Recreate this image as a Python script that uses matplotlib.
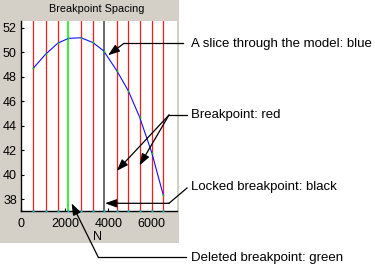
import matplotlib
matplotlib.use("Agg")
import matplotlib.pyplot as plt
from matplotlib.patches import Rectangle
from matplotlib.lines import Line2D

plt.rcParams["font.family"] = ["Liberation Sans", "DejaVu Sans"]

# Breakpoint positions along N and the model slice evaluated at each of them
breakpoints = [540, 1110, 1670, 2160, 2740, 3280, 3780, 4390, 4920, 5440, 6000, 6530]
slice_values = [48.68, 49.83, 50.73, 51.13, 51.18, 50.80, 50.12, 48.49, 46.85, 44.70, 41.80, 38.33]
deleted_breakpoint = 2160
locked_breakpoint = 3780

x_ticks = [0, 2000, 4000, 6000]
y_ticks = [38, 40, 42, 44, 46, 48, 50, 52]

title = "Breakpoint Spacing"
x_label = "N"
callouts = [
    "A slice through the model: blue",
    "Breakpoint: red",
    "Locked breakpoint: black",
    "Deleted breakpoint: green",
]

W, H = 375, 268
fig = plt.figure(figsize=(W / 100, H / 100), dpi=100, facecolor="white")


def fp(x, y):
    """Pixel position measured from the top-left corner -> figure fraction."""
    return (x / W, 1 - y / H)


# Dialog-style grey panel behind the axes
fig.patches.append(Rectangle(fp(0, 243), 179 / W, 243 / H, transform=fig.transFigure,
                             facecolor="#d4d0c8", edgecolor="none", zorder=-10))

ax = fig.add_axes([21 / W, 1 - 211 / H, 155.7 / W, 190 / H])
ax.set_zorder(1)
ax.set_facecolor("white")
ax.set_xlim(-20, 7150)
ax.set_ylim(37.02, 52.55)

for b in breakpoints:
    if b == deleted_breakpoint:
        ax.axvline(b, color="#00ee00", lw=1.1, zorder=2)
    elif b == locked_breakpoint:
        ax.axvline(b, color="#505050", lw=1.2, zorder=2)
    else:
        ax.axvline(b, color="#ff1a1a", lw=0.9, zorder=2)

ax.plot(breakpoints, slice_values, color="#1010ff", lw=0.8, zorder=3)
ax.plot(breakpoints, slice_values, ls="none", marker="s", ms=1.2, mec="none",
        mfc="#00dd00", zorder=4)
ax.plot(breakpoints, [ax.get_ylim()[0]] * len(breakpoints), ls="none", marker="s",
        ms=1.6, mec="none", mfc="#00c8c8", zorder=4, clip_on=False)

ax.set_xticks(x_ticks)
ax.set_yticks(y_ticks)
ax.tick_params(direction="in", length=2.5, width=0.8, labelsize=9, colors="black")
ax.tick_params(axis="y", pad=3)
ax.tick_params(axis="x", pad=5)
for side in ("top", "right"):
    ax.spines[side].set_visible(False)
for side in ("left", "bottom"):
    ax.spines[side].set_linewidth(1.0)
    ax.spines[side].set_color("black")

fig.text(*fp(97, 9.5), title, ha="center", va="center", fontsize=7.8, zorder=5)
fig.text(*fp(97, 237.5), x_label, ha="center", va="center", fontsize=9, zorder=5)

arrow = dict(arrowstyle="-|>,head_length=0.7,head_width=0.25", color="black",
             lw=0.9, shrinkA=0, shrinkB=0, mutation_scale=10)


def connector(points):
    xs, ys = zip(*[fp(x, y) for x, y in points])
    fig.add_artist(Line2D(xs, ys, color="black", lw=0.9, transform=fig.transFigure,
                          zorder=10))


def pointer(tip, elbow):
    ax.annotate("", xy=tip, xycoords="data", xytext=fp(*elbow),
                textcoords="figure fraction", arrowprops=arrow,
                annotation_clip=False, zorder=10)


# Slice through the model
connector([(124, 43.3), (183, 43.3)])
pointer((3990, 49.75), (124, 43.3))
# Ordinary breakpoints
connector([(169, 115), (187, 115)])
pointer((4390, 40.3), (169, 115))
pointer((5440, 40.75), (169, 115))
# Locked breakpoint
connector([(169, 203.3), (187, 188)])
pointer((3850, 37.65), (169, 203.3))
# Deleted breakpoint
connector([(98.3, 257.3), (186, 257.3)])
pointer((2310, 37.65), (98.3, 257.3))

label_rows = [44, 115, 187, 258]
for text, y in zip(callouts, label_rows):
    fig.text(*fp(191, y), text, ha="left", va="center", fontsize=9.5, zorder=5)

fig.savefig("out.png", dpi=100, facecolor="white")
